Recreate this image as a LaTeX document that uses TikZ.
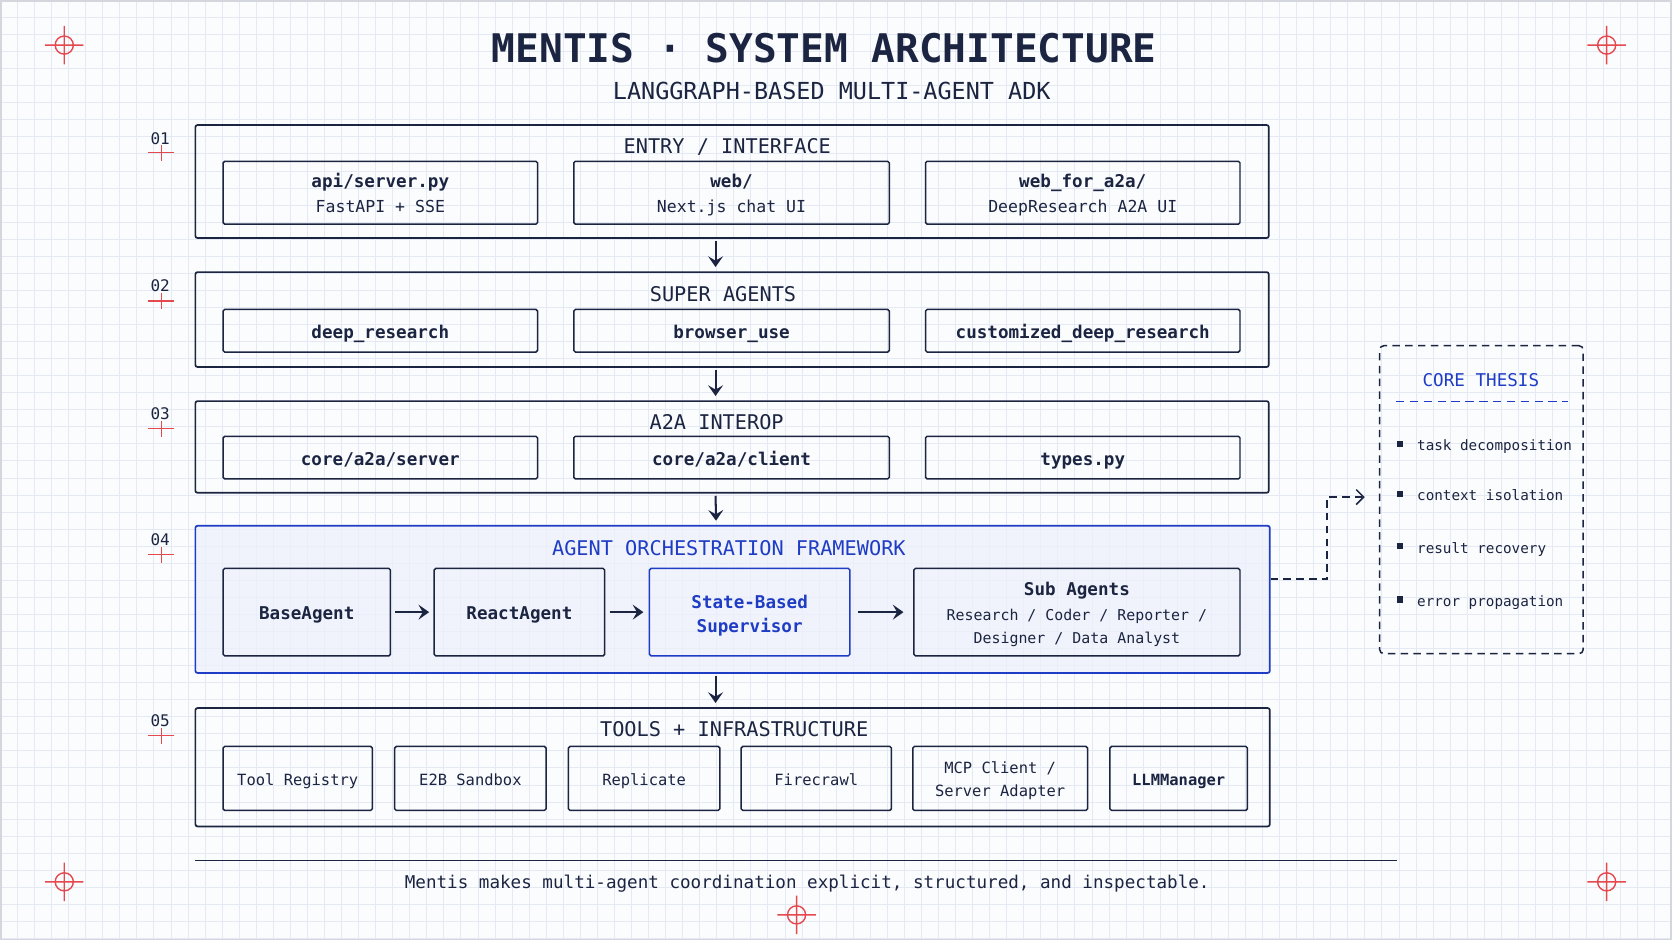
\documentclass[tikz,border=0pt]{standalone}
\usepackage{fontspec}
\setmainfont{DejaVu Sans Mono}
\usetikzlibrary{arrows.meta}
\definecolor{navy}{HTML}{1B2440}
\definecolor{accent}{HTML}{1E3CC4}
\definecolor{l4fill}{HTML}{EDF1FB}
\definecolor{gridc}{HTML}{E4E9F4}
\definecolor{bgc}{HTML}{FBFCFE}
\definecolor{xred}{HTML}{E5484D}
\definecolor{framec}{HTML}{D3D6DC}
\newcommand{\fs}[2]{\fontsize{#1}{#2}\selectfont}
\begin{document}
\begin{tikzpicture}[x=1pt,y=-1pt,
  layer/.style={draw=navy,line width=1.6pt,rounded corners=2pt,inner sep=0pt},
  sub/.style={draw=navy,line width=1.4pt,rounded corners=1.5pt,inner sep=0pt,align=center,text=navy},
  box/.style={draw=navy,line width=1.4pt,rounded corners=1.5pt,inner sep=0pt},
  txt/.style={align=center,text=navy,inner sep=0pt},
  ltitle/.style={font=\fs{19}{22},text=navy,inner sep=0pt,text height=19pt,text depth=1.5pt},
  bsub/.style={sub,font=\fs{16.5}{20}\bfseries,text height=16pt,text depth=2pt},
  tsub/.style={sub,font=\fs{14.5}{22},text height=15pt,text depth=1.5pt},
  arr/.style={draw=navy,line width=1.9pt,-{Stealth[length=10pt,width=14pt,inset=4pt]}},
  xhair/.pic={\draw[xred,line width=1.3pt] (0,0) circle (8.5) (-18,0) -- (18,0) (0,-18) -- (0,18);},
  lplus/.pic={\draw[xred,line width=1.2pt] (-12,0) -- (12,0) (0,-7) -- (0,8);},
  num/.style={font=\fs{15}{18},text=navy,inner sep=0pt},
  item/.style={font=\fs{13.4}{16},text=navy,inner sep=0pt,anchor=west,text height=13pt,text depth=0pt},
  bullet/.style={fill=navy,minimum size=6pt,inner sep=0pt}
]
% background
\fill[bgc] (0,0) rectangle (1568,882);
\draw[gridc,line width=0.6pt,step=16pt] (0,0) grid (1568,882);
\draw[framec,line width=1.5pt] (0.75,0.75) rectangle (1567.25,881.25);
\useasboundingbox (0,0) rectangle (1568,882);

% crosshairs
\pic at (60,42) {xhair};
\pic at (1507,42) {xhair};
\pic at (60,827) {xhair};
\pic at (1507,827) {xhair};
\pic at (747,858) {xhair};

% title
\node[font=\fs{37}{42}\bfseries,text=navy,inner sep=0pt] (title) at (773,45) {MENTIS · SYSTEM ARCHITECTURE};
\node[font=\fs{22}{26},text=navy,inner sep=0pt] (subtitle) at (780,85) {LANGGRAPH-BASED MULTI-AGENT ADK};

% layer numbers
\node[num] (n1) at (150,130) {01}; \pic at (151,143) {lplus};
\node[num] (n2) at (150,268) {02}; \pic at (151,282) {lplus};
\node[num] (n3) at (150,388) {03}; \pic at (151,402) {lplus};
\node[num] (n4) at (150,506) {04}; \pic at (151,520) {lplus};
\node[num] (n5) at (150,676) {05}; \pic at (151,690) {lplus};

% Layer 1
\node[layer,minimum width=1007pt,minimum height=106pt] (L1) at (686.5,170) {};
\node[ltitle] (L1t) at (682,135) {ENTRY / INTERFACE};
\node[box,minimum width=295pt,minimum height=59pt] (a1) at (356.5,180.5) {};
\node[box,minimum width=296pt,minimum height=59pt] (a2) at (686,180.5) {};
\node[box,minimum width=295pt,minimum height=59pt] (a3) at (1015.5,180.5) {};
\node[txt,font=\fs{15.5}{18}] (a1t) at ([yshift=-2.5pt]a1.center)
  {{\fs{16.5}{20}\bfseries\strut api/server.py}\\[3pt]\strut FastAPI + SSE};
\node[txt,font=\fs{15.5}{18}] (a2t) at ([yshift=-2.5pt]a2.center)
  {{\fs{16.5}{20}\bfseries\strut web/}\\[3pt]\strut Next.js chat UI};
\node[txt,font=\fs{15.5}{18}] (a3t) at ([yshift=-2.5pt]a3.center)
  {{\fs{16.5}{20}\bfseries\strut web\_for\_a2a/}\\[3pt]\strut DeepResearch A2A UI};

% Layer 2
\node[layer,minimum width=1007pt,minimum height=89pt] (L2) at (686.5,299.5) {};
\node[ltitle] (L2t) at (678,274) {SUPER AGENTS};
\node[bsub,minimum width=295pt,minimum height=40pt] (b1) at (356.5,310) {deep\_research};
\node[bsub,minimum width=296pt,minimum height=40pt] (b2) at (686,310) {browser\_use};
\node[bsub,minimum width=295pt,minimum height=40pt] (b3) at (1015.5,310) {customized\_deep\_research};

% Layer 3
\node[layer,minimum width=1007pt,minimum height=86pt] (L3) at (686.5,419) {};
\node[ltitle] (L3t) at (672,394) {A2A INTEROP};
\node[bsub,minimum width=295pt,minimum height=40pt] (c1) at (356.5,429) {core/a2a/server};
\node[bsub,minimum width=296pt,minimum height=40pt] (c2) at (686,429) {core/a2a/client};
\node[bsub,minimum width=295pt,minimum height=40pt] (c3) at (1015.5,429) {types.py};

% Layer 4
\node[layer,draw=accent,fill=l4fill,fill opacity=0.75,text opacity=1,minimum width=1008pt,minimum height=138pt] (L4) at (687,562) {};
\node[ltitle,text=accent] (L4t) at (683.5,512) {AGENT ORCHESTRATION FRAMEWORK};
\node[bsub,minimum width=157pt,minimum height=82pt] (d1) at (287.5,574) {BaseAgent};
\node[bsub,minimum width=160pt,minimum height=82pt] (d2) at (487,574) {ReactAgent};
\node[box,draw=accent,minimum width=188pt,minimum height=82pt] (d3) at (703,574) {};
\node[txt,text=accent,font=\fs{16.5}{23}\bfseries] (d3t) at ([yshift=-3pt]d3.center) {\strut State-Based\\\strut Supervisor};
\node[box,minimum width=306pt,minimum height=82pt] (d4) at (1010,574) {};
\node[txt,font=\fs{14}{22}] (d4t) at ([yshift=-3.5pt]d4.center)
  {{\fs{16.5}{20}\bfseries\strut Sub Agents}\\[1pt]\strut Research / Coder / Reporter /\\\strut Designer / Data Analyst};
\draw[arr,shorten <=4pt,shorten >=4pt] (d1) -- (d2);
\draw[arr,shorten <=4pt,shorten >=5pt] (d2) -- (d3);
\draw[arr,shorten <=7pt,shorten >=9pt] (d3) -- (d4);

% Layer 5
\node[layer,minimum width=1008pt,minimum height=111pt] (L5) at (687,719.5) {};
\node[ltitle] (L5t) at (688.5,682) {TOOLS + INFRASTRUCTURE};
\node[tsub,minimum width=140pt,minimum height=60pt] (e1) at (279,730) {Tool Registry};
\node[tsub,minimum width=142pt,minimum height=60pt] (e2) at (441,730) {E2B Sandbox};
\node[tsub,minimum width=142pt,minimum height=60pt] (e3) at (604,730) {Replicate};
\node[tsub,minimum width=141pt,minimum height=60pt] (e4) at (765.5,730) {Firecrawl};
\node[box,minimum width=164pt,minimum height=60pt] (e5) at (938,730) {};
\node[txt,font=\fs{14.5}{22}] (e5t) at ([yshift=-2pt]e5.center) {\strut MCP Client /\\\strut Server Adapter};
\node[tsub,font=\fs{14.5}{22}\bfseries,minimum width=129pt,minimum height=60pt] (e6) at (1105.5,730) {LLMManager};

% vertical arrows
\draw[arr,shorten <=2pt,shorten >=4pt] ([xshift=-15.5pt]L1.south) -- ([xshift=-15.5pt]L2.north);
\draw[arr,shorten <=2pt,shorten >=4pt] ([xshift=-15.5pt]L2.south) -- ([xshift=-15.5pt]L3.north);
\draw[arr,shorten <=2pt,shorten >=4pt] ([xshift=-15.5pt]L3.south) -- ([xshift=-15.5pt]L4.north);
\draw[arr,shorten <=2pt,shorten >=4pt] ([xshift=-16pt]L4.south) -- ([xshift=-16pt]L5.north);

% core thesis
\node[draw=navy,line width=1.4pt,dash pattern=on 7pt off 5pt,rounded corners=4pt,minimum width=191pt,minimum height=289pt,inner sep=0pt] (core) at (1389.5,468.5) {};
\node[font=\fs{16.5}{20},text=accent,inner sep=0pt] (coret) at (1389,356) {CORE THESIS};
\draw[accent,line width=1.6pt,dash pattern=on 8pt off 5pt] ([shift={(16,53)}]core.north west) -- ([shift={(-15,53)}]core.north east);
\node[bullet] (p1) at (1313,416) {}; \node[item] (i1) at (1329,416) {task decomposition};
\node[bullet] (p2) at (1313,463) {}; \node[item] (i2) at (1329,463) {context isolation};
\node[bullet] (p3) at (1313,512) {}; \node[item] (i3) at (1329,512) {result recovery};
\node[bullet] (p4) at (1313,562) {}; \node[item] (i4) at (1329,562) {error propagation};

% dashed connector
\coordinate (cend) at (1280,466);
\draw[navy,line width=1.4pt,dash pattern=on 7pt off 5pt,-{Straight Barb[length=7pt,width=14pt]}] ([yshift=19pt]L4.east) -- ++(53,0) |- (cend);

% footer
\draw[navy,line width=1.3pt] (183,807) -- (1310,807);
\node[font=\fs{16.5}{20},text=navy,inner sep=0pt] (foot) at (757,829) {Mentis makes multi-agent coordination explicit, structured, and inspectable.};
\end{tikzpicture}
\end{document}
